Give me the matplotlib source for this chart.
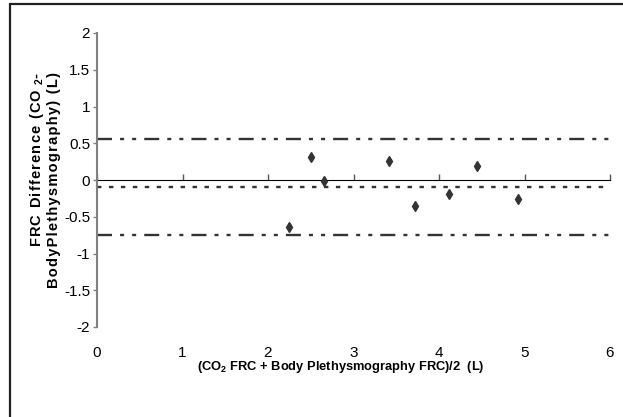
import matplotlib
matplotlib.use("Agg")
import matplotlib.pyplot as plt
import matplotlib.patches as mpatches

# ==== DATA ====
mean_frc = [2.24, 2.50, 2.66, 3.42, 3.72, 4.12, 4.45, 4.92]
frc_diff = [-0.635, 0.317, -0.02, 0.26, -0.36, -0.19, 0.185, -0.26]
bias = -0.092
upper_loa = 0.56
lower_loa = -0.75
x_ticks = [0, 1, 2, 3, 4, 5, 6]
y_ticks = [-2, -1.5, -1, -0.5, 0, 0.5, 1, 1.5, 2]
y_tick_labels = ["-2", "-1.5", "-1", "-0.5", "0", "0.5", "1", "1.5", "2"]
# =======================================

plt.rcParams['lines.scale_dashes'] = False
plt.rcParams['mathtext.fontset'] = 'custom'
plt.rcParams['mathtext.rm'] = 'Liberation Sans'
plt.rcParams['mathtext.bf'] = 'Liberation Sans:bold'
plt.rcParams['font.family'] = ['Liberation Sans', 'DejaVu Sans']

ink = '#333333'


def spaced(s):
    # the reference y label has slightly tracked-out letters
    return '\u200a'.join(s)


fig = plt.figure(figsize=(6.23, 4.17), dpi=100)
ax = fig.add_axes([97 / 623, 1 - 327 / 417, (610 - 97) / 623, (327 - 33) / 417])

# limits of agreement and bias
ax.axhline(upper_loa, color=ink, lw=1.7, dashes=(10.8, 5.8, 2.9, 5.8, 2.9, 5.8))
ax.axhline(lower_loa, color=ink, lw=1.7, dashes=(10.8, 5.8, 2.9, 5.8, 2.9, 5.8))
ax.axhline(bias, color=ink, lw=1.7, dashes=(3.2, 5.4))

ax.plot(mean_frc, frc_diff, linestyle='none', marker='d', markersize=5.5,
        color=ink, markeredgecolor=ink, zorder=5)

ax.set_xlim(0, 6)
ax.set_ylim(-2, 2)

# spines: only left visible, bottom labels without line
for s in ['top', 'right', 'bottom']:
    ax.spines[s].set_visible(False)
ax.spines['left'].set_color('#808080')
ax.spines['left'].set_linewidth(1.5)

ax.set_yticks(y_ticks)
ax.set_yticklabels(y_tick_labels, fontsize=11)
ax.tick_params(axis='y', direction='out', length=3, width=1, color='#808080', pad=2)

ax.set_xticks(x_ticks)
ax.set_xticklabels([str(t) for t in x_ticks], fontsize=11)
ax.tick_params(axis='x', length=0, pad=14)

# zero axis with tick marks pointing down
zero_ax = ax.secondary_xaxis(0.5)
zero_ax.set_xticks(x_ticks)
zero_ax.set_xticklabels([])
zero_ax.tick_params(axis='x', direction='out', length=4, width=1, color='#555555',
                    labelbottom=False, labeltop=False)
zero_ax.spines['bottom'].set_linewidth(1.0)
zero_ax.spines['bottom'].set_color('black')

fig.text(341 / 623, 1 - 367 / 417, r"(CO$_\mathbf{2}$ FRC + Body Plethysmography FRC)/2  (L)",
         ha='center', va='center', fontsize=9.3, fontweight='bold')

ylab = spaced("FRC Difference (CO ") + "$_\\mathbf{2}$-\n" + spaced("BodyPlethysmography) (L)")
fig.text(44.5 / 623, 1 - 180 / 417, ylab,
         rotation=90, ha='center', va='center', multialignment='right',
         fontsize=10.5, fontweight='bold', linespacing=1.15)

# outer border
fig.patches.append(mpatches.Rectangle((9.5 / 623, -0.05), 1.0, 1.05 - 4 / 417,
                                      transform=fig.transFigure, fill=False,
                                      edgecolor='#222222', lw=1.6))

fig.savefig('out.png', dpi=100)
